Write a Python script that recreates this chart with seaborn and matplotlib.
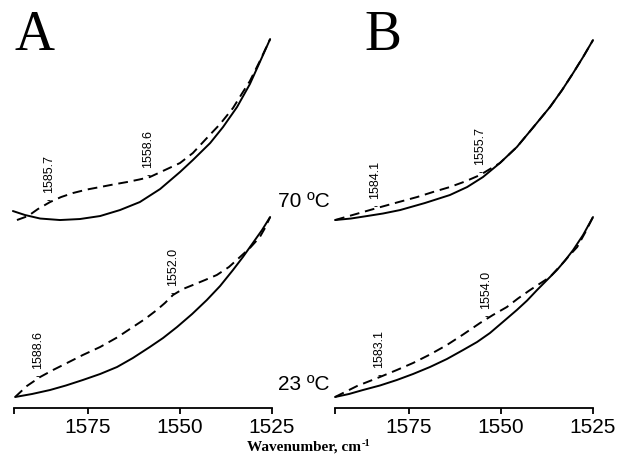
import numpy as np
import matplotlib
matplotlib.use("Agg")
import matplotlib.pyplot as plt
import seaborn as sns

# ---- spectra (wavenumber, offset absorbance) ----
# Panel A, 70 C
a70_solid_wn = [1595.4, 1592.1, 1588.0, 1582.6, 1577.2, 1571.7, 1566.3, 1560.9, 1555.4,
                1550.0, 1546.5, 1541.8, 1538.3, 1534.5, 1531.0, 1528.3, 1525.5]
a70_solid_ab = [1.97, 1.93, 1.895, 1.88, 1.89, 1.92, 1.98, 2.06, 2.19,
                2.36, 2.48, 2.65, 2.81, 3.01, 3.24, 3.46, 3.69]
a70_dash_wn = [1594.3, 1591.3, 1588.6, 1585.3, 1582.3, 1579.1, 1575.3, 1571.7, 1568.2,
               1564.4, 1561.1, 1558.2, 1554.1, 1550.0, 1546.5, 1542.7, 1539.1, 1535.6,
               1532.9, 1531.0, 1528.3, 1525.5]
a70_dash_ab = [1.88, 1.92, 1.99, 2.06, 2.11, 2.15, 2.185, 2.21, 2.235,
               2.26, 2.285, 2.31, 2.38, 2.45, 2.55, 2.70, 2.84, 3.00,
               3.16, 3.27, 3.47, 3.69]
a70_peaks = [1585.7, 1558.6]

# Panel A, 23 C
a23_solid_wn = [1594.8, 1590.2, 1585.3, 1581.0, 1576.4, 1571.7, 1567.1, 1562.8, 1558.2, 1554.6,
                1550.8, 1546.7, 1542.7, 1539.1, 1535.6, 1532.9, 1530.2, 1527.7, 1525.5]
a23_solid_ab = [0.11, 0.14, 0.18, 0.225, 0.28, 0.34, 0.41, 0.50, 0.61, 0.70,
                0.81, 0.94, 1.08, 1.22, 1.38, 1.51, 1.65, 1.78, 1.91]
a23_dash_wn = [1594.8, 1591.6, 1588.0, 1584.5, 1580.7, 1576.4, 1571.7, 1567.1, 1562.8, 1559.5,
               1556.3, 1554.1, 1551.9, 1549.2, 1546.5, 1543.2, 1540.0, 1536.7, 1533.7, 1531.0,
               1528.3, 1526.9, 1525.5]
a23_dash_ab = [0.11, 0.22, 0.31, 0.38, 0.45, 0.53, 0.61, 0.705, 0.81, 0.89,
               0.98, 1.05, 1.13, 1.19, 1.23, 1.28, 1.33, 1.41, 1.51, 1.60,
               1.71, 1.80, 1.91]
a23_peaks = [1588.6, 1552.0]

# Panel B, 70 C
b70_solid_wn = [1595.1, 1590.8, 1586.4, 1582.1, 1577.4, 1570.7, 1563.9, 1559.2, 1554.9,
                1550.3, 1545.7, 1541.4, 1536.7, 1533.4, 1530.4, 1527.7, 1525.0]
b70_solid_ab = [1.88, 1.895, 1.92, 1.945, 1.98, 2.05, 2.13, 2.21, 2.31,
                2.45, 2.61, 2.80, 3.01, 3.18, 3.35, 3.51, 3.68]
b70_dash_wn = [1595.1, 1589.4, 1583.7, 1578.3, 1572.8, 1568.5, 1563.9, 1559.8, 1555.7,
               1553.0, 1550.3, 1545.7, 1541.4, 1536.7, 1533.4, 1530.4, 1527.7, 1525.0]
b70_dash_ab = [1.88, 1.94, 2.00, 2.055, 2.11, 2.16, 2.21, 2.265, 2.33,
               2.39, 2.45, 2.61, 2.80, 3.01, 3.18, 3.35, 3.51, 3.68]
b70_peaks = [1584.1, 1555.7]

# Panel B, 23 C
b23_solid_wn = [1595.1, 1591.3, 1587.5, 1582.9, 1578.3, 1573.9, 1569.3, 1564.7, 1560.3, 1556.5,
                1553.0, 1549.5, 1545.7, 1542.9, 1540.2, 1537.5, 1534.8, 1532.6, 1530.4, 1527.7,
                1525.0]
b23_solid_ab = [0.11, 0.14, 0.18, 0.225, 0.28, 0.34, 0.41, 0.49, 0.58, 0.66,
                0.75, 0.86, 0.98, 1.075, 1.18, 1.28, 1.38, 1.475, 1.58, 1.73,
                1.91]
b23_dash_wn = [1595.1, 1589.1, 1582.9, 1578.3, 1573.9, 1569.3, 1564.7, 1560.3, 1555.7, 1552.2,
               1548.4, 1545.4, 1542.1, 1539.4, 1536.7, 1533.2, 1531.3, 1529.3, 1527.2, 1525.0]
b23_dash_ab = [0.11, 0.22, 0.31, 0.38, 0.45, 0.535, 0.63, 0.735, 0.85, 0.93,
               1.01, 1.095, 1.18, 1.245, 1.31, 1.45, 1.53, 1.61, 1.75, 1.91]
b23_peaks = [1583.1, 1554.0]

tick_pos = [1595, 1575, 1550, 1525]
tick_lab = ["", "1575", "1550", "1525"]
temp_labels = ["70 \u00baC", "23 \u00baC"]

sns.set_style("white")
plt.rcParams['font.family'] = ['Liberation Sans', 'DejaVu Sans']
plt.rcParams['text.color'] = 'black'
plt.rcParams['xtick.color'] = 'black'
plt.rcParams['axes.labelcolor'] = 'black'

fig = plt.figure(figsize=(6.17, 4.62), dpi=100)
axA = fig.add_axes([0.0233, 0.1169, 0.4175, 0.818])
axB = fig.add_axes([0.5436, 0.1169, 0.4175, 0.818])

def draw_pair(ax, s_wn, s_ab, d_wn, d_ab, peaks):
    sns.lineplot(x=s_wn, y=s_ab, ax=ax, color='k', lw=1.4, estimator=None,
                 sort=False, clip_on=False)
    sns.lineplot(x=d_wn, y=d_ab, ax=ax, color='k', lw=1.4, estimator=None,
                 sort=False, clip_on=False, linestyle=(0, (5, 3)))
    # peak labels sit on the dashed spectrum
    order = np.argsort(d_wn)
    xs = np.array(d_wn)[order]
    ys = np.array(d_ab)[order]
    for p in peaks:
        yp = np.interp(p, xs, ys)
        ax.annotate("-", (p, yp), xytext=(0, -1), textcoords='offset points',
                    ha='center', va='baseline', fontsize=9)
        ax.annotate(f"{p:.1f}", (p, yp), xytext=(0, 7), textcoords='offset points',
                    ha='center', va='bottom', rotation=90, fontsize=9)

draw_pair(axA, a70_solid_wn, a70_solid_ab, a70_dash_wn, a70_dash_ab, a70_peaks)
draw_pair(axA, a23_solid_wn, a23_solid_ab, a23_dash_wn, a23_dash_ab, a23_peaks)
draw_pair(axB, b70_solid_wn, b70_solid_ab, b70_dash_wn, b70_dash_ab, b70_peaks)
draw_pair(axB, b23_solid_wn, b23_solid_ab, b23_dash_wn, b23_dash_ab, b23_peaks)

for ax in (axA, axB):
    ax.set_xlim(1595, 1525)
    ax.set_ylim(0, 3.78)
    sns.despine(ax=ax, left=True)
    ax.spines['bottom'].set_linewidth(1.3)
    ax.spines['bottom'].set_color('k')
    ax.set_yticks([])
    ax.set_xticks(tick_pos)
    ax.set_xticklabels(tick_lab)
    ax.tick_params(axis='x', direction='out', length=4, width=1.3, pad=3,
                   labelsize=15, colors='k', bottom=True)
    ax.set_xlabel("")
    ax.set_ylabel("")
    ax.patch.set_alpha(0)

fig.text(0.024, 0.892, "A", fontsize=40, family='Liberation Serif', ha='left', va='baseline')
fig.text(0.590, 0.892, "B", fontsize=40, family='Liberation Serif', ha='left', va='baseline')

fig.text(0.4506, 0.5628, temp_labels[0], fontsize=15, ha='left', va='center')
fig.text(0.4506, 0.1667, temp_labels[1], fontsize=15, ha='left', va='center')

# shared x label, centred on the figure, with a small "-1" after "cm"
lab_main = fig.text(0, 0.024, "Wavenumber, cm", fontsize=11, family='Liberation Serif',
                    weight='bold', ha='left', va='baseline')
lab_sup = fig.text(0, 0.034, "-1", fontsize=7.5, family='Liberation Serif',
                   weight='bold', ha='left', va='baseline')
renderer = fig.canvas.get_renderer()
w_main = lab_main.get_window_extent(renderer).width
w_sup = lab_sup.get_window_extent(renderer).width
fig_w = fig.get_figwidth() * fig.dpi
x0 = (fig_w - (w_main + w_sup)) / 2
lab_main.set_x(x0 / fig_w)
lab_sup.set_x((x0 + w_main + 1) / fig_w)

fig.savefig("out.png", dpi=100)
